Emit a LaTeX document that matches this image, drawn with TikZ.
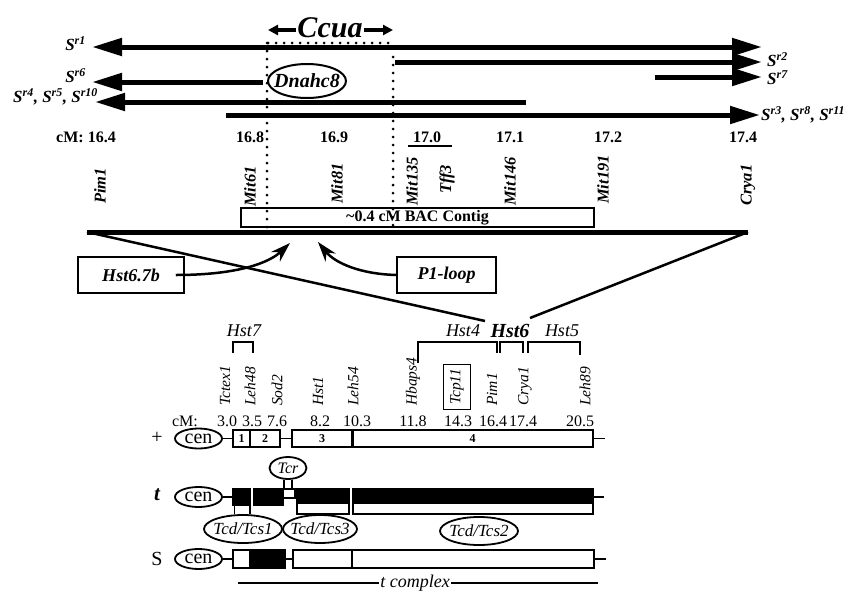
\documentclass[tikz,border=0pt]{standalone}
\usepackage{fontspec}
\setmainfont{Liberation Serif}
\usetikzlibrary{arrows.meta,shapes.geometric}
\newcommand\fsz[1]{\fontsize{#1}{#1}\selectfont}
\tikzset{bigtri/.tip={Triangle[length=30pt,width=17pt]}}

\begin{document}
\begin{tikzpicture}[x=1pt,y=-1pt,
  sr/.style={line width=5pt},
  ccarr/.style={line width=3.5pt,-{Triangle[length=10pt,width=10pt]}},
  dots/.style={line width=3pt,line cap=round,dash pattern=on 0pt off 8pt},
  srlab/.style={font=\bfseries\itshape\fsz{17},inner sep=0pt},
  cmup/.style={font=\bfseries\fsz{16},inner sep=0pt},
  mapgene/.style={rotate=90,anchor=west,inner sep=1pt,font=\bfseries\itshape\fsz{16.5}},
  probe/.style={draw,line width=1.5pt,minimum height=36,font=\bfseries\itshape\fsz{18}},
  bent/.style={line width=2.5pt,-{Stealth[length=20pt,width=13pt]}},
  hstlab/.style={font=\itshape\fsz{18},inner sep=0pt},
  brk/.style={line width=2pt},
  gene/.style={rotate=90,anchor=west,inner sep=1pt,font=\itshape\fsz{15.5}},
  cmlow/.style={font=\fsz{16},inner sep=0pt},
  cen/.style={ellipse,draw,line width=1.8pt,fill=white,minimum width=47,minimum height=20,inner sep=0pt,font=\fsz{20}},
  seg/.style={draw,line width=1.5pt,minimum height=17,inner sep=0pt,font=\bfseries\fsz{12}},
  tseg/.style={draw,line width=1.5pt,fill=black,minimum height=16,inner sep=0pt},
  topen/.style={draw,line width=1.5pt,minimum height=25,inner sep=0pt},
  tcs/.style={ellipse,draw,line width=1.8pt,fill=white,minimum width=78,minimum height=28,inner xsep=-8pt,inner ysep=0pt,font=\itshape\fsz{17}},
  chrlink/.style={line width=1.5pt}]
\useasboundingbox (0,0) rectangle (852,592);

% Ccua interval and recombinant chromosomes
\node[font=\bfseries\itshape\fsz{30},inner sep=1pt] (ccua) at (330,28) {Ccua};
\coordinate (ccuaL) at (268,30); \coordinate (ccuaR) at (393,30);
\draw[ccarr] (ccua.west|-ccuaL) -- (ccuaL); \draw[ccarr] (ccua.east|-ccuaR) -- (ccuaR);
\draw[dots] (268,43) -- (392,43); \draw[dots] (267,43) -- (267,232); \draw[dots] (393,57) -- (393,234);
\draw[sr,bigtri-bigtri] (92,47) -- (762,47);
\draw[sr,-bigtri] (395,62) -- (762,62);
\draw[sr,-bigtri] (655,77) -- (762,77);
\draw[sr,-bigtri] (263,82) -- (92,82);
\draw[sr,-bigtri] (526,102) -- (95,102);
\draw[sr,-bigtri] (226,115) -- (760,115);
\node[srlab,anchor=east] (srone) at (86,44) {S\textsuperscript{r1}};
\node[srlab,anchor=east] (srsix) at (86,76) {S\textsuperscript{r6}};
\node[srlab,anchor=east] (srfour) at (98,97) {S\textsuperscript{r4}, S\textsuperscript{r5}, S\textsuperscript{r10}};
\node[srlab,anchor=west] (srtwo) at (767,60) {S\textsuperscript{r2}};
\node[srlab,anchor=west] (srseven) at (767,78) {S\textsuperscript{r7}};
\node[srlab,anchor=west] (srthree) at (761,115) {S\textsuperscript{r3}, S\textsuperscript{r8}, S\textsuperscript{r11}};
\node[ellipse,draw,line width=2pt,fill=white,minimum width=78,minimum height=34,inner xsep=-7pt,inner ysep=0pt,font=\bfseries\itshape\fsz{20}] (dnahc) at (307,81) {Dnahc8};

% cM scale of the contig region
\node[cmup] (cma) at (86,137) {cM: 16.4}; \node[cmup] (cmb) at (250,137) {16.8};
\node[cmup] (cmc) at (334,137) {16.9}; \node[cmup] (cmd) at (427,137) {17.0};
\node[cmup] (cme) at (510,137) {17.1}; \node[cmup] (cmf) at (608,137) {17.2};
\node[cmup] (cmg) at (743,137) {17.4};
\draw[line width=1.5pt] (408,146) -- (452,146);
\node[mapgene] (mpim) at (100,205) {Pim1}; \node[mapgene] (mmsixone) at (250,208) {Mit61};
\node[mapgene] (mmeight) at (337,205) {Mit81}; \node[mapgene] (mmonethree) at (412,207) {Mit135};
\node[mapgene] (mtff) at (447,195) {Tff3}; \node[mapgene] (mmonefour) at (510,207) {Mit146};
\node[mapgene] (mmonenine) at (603,205) {Mit191}; \node[mapgene] (mcrya) at (748,207) {Crya1};
\node[draw,line width=1.5pt,minimum width=353,minimum height=19,inner sep=0pt,font=\bfseries\fsz{16}] (bac) at (417.5,217.5) {\textasciitilde0.4 cM BAC Contig};
\coordinate (mapL) at (87,232); \coordinate (mapR) at (748,232);
\draw[line width=5pt] (mapL) -- (mapR);
\coordinate (zoomL) at (485,321); \coordinate (zoomR) at (530,318);
\draw[line width=2.5pt] (mapL) -- (zoomL); \draw[line width=2.5pt] (mapR) -- (zoomR);

% probes
\node[probe,minimum width=106] (hstprobe) at (131,275) {Hst6.7b};
\node[probe,minimum width=99] (ploop) at (446.5,275) {P1-loop};
\coordinate (hsttip) at (290,243); \coordinate (plooptip) at (318,242);
\draw[bent] ([xshift=-9pt]hstprobe.east) .. controls (240,275) and (270,262) .. (hsttip);
\draw[bent] (ploop.west) .. controls (360,274) and (335,263) .. (plooptip);

% Hst loci
\node[hstlab] (hstseven) at (244,331) {Hst7}; \node[hstlab] (hstfour) at (463,331) {Hst4};
\node[hstlab,font=\bfseries\itshape\fsz{20}] (hstsix) at (510,331) {Hst6}; \node[hstlab] (hstfive) at (562,331) {Hst5};
\draw[brk] (233,353) |- (253,342) -- (253,353);
\draw[brk] (418,363) |- (497,342) -- (497,353);
\draw[brk] (500,353) |- (523,342) -- (523,353);
\draw[brk] (528,353) |- (580,342) -- (580,355);

% genes along chromosome 17
\node[gene] (gtctex) at (225,407) {Tctex1}; \node[gene] (glehfe) at (250,407) {Leh48};
\node[gene] (gsod) at (277,407) {Sod2}; \node[gene] (ghstone) at (318,407) {Hst1};
\node[gene] (glehff) at (353,407) {Leh54}; \node[gene] (ghbaps) at (413,407) {Hbaps4};
\node[gene,draw,line width=1.5pt,minimum width=45,minimum height=27] (gtcp) at (457,410) {Tcp11};
\node[gene] (gpim) at (492,407) {Pim1}; \node[gene] (gcrya) at (525,407) {Crya1};
\node[gene] (glehen) at (585,407) {Leh89};
\node[cmlow] (lcm) at (185,421) {cM:}; \node[cmlow] (la) at (227,421) {3.0};
\node[cmlow] (lb) at (252,421) {3.5}; \node[cmlow] (lc) at (277,421) {7.6};
\node[cmlow] (ld) at (320,421) {8.2}; \node[cmlow] (le) at (357,421) {10.3};
\node[cmlow] (lf) at (413,421) {11.8}; \node[cmlow] (lg) at (458,421) {14.3};
\node[cmlow] (lh) at (493,421) {16.4}; \node[cmlow] (li) at (523,421) {17.4};
\node[cmlow] (lj) at (580,421) {20.5};

% wild-type chromosome
\node[font=\fsz{20}] (plus) at (157,438) {+};
\node[cen] (pcen) at (198.5,438.5) {cen};
\node[seg,minimum width=17] (pone) at (241.5,438.5) {1};
\node[seg,minimum width=30] (ptwo) at (265,438.5) {2};
\node[seg,minimum width=60] (pthree) at (322,438.5) {3};
\node[seg,minimum width=241] (pfour) at (472.5,438.5) {4};
\draw[line width=3pt] (pthree.north east) -- (pthree.south east);
\coordinate (ptail) at (605,438.5);
\draw[chrlink] (pcen) -- (pone); \draw[chrlink] (ptwo) -- (pthree); \draw[chrlink] (pfour.east) -- (ptail);

% t haplotype
\node[font=\bfseries\itshape\fsz{21}] (tlab) at (157,495) {t};
\node[cen] (tcen) at (198.5,497) {cen};
\node[tseg,minimum width=17] (tone) at (241.5,497) {};
\node[tseg,minimum width=29] (ttwo) at (268.5,497) {};
\node[draw,line width=1.5pt,minimum width=12,minimum height=9,inner sep=0pt] (tgap) at (289,493.5) {};
\node[topen,minimum width=52] (tthree) at (323,501.5) {};
\node[topen,minimum width=240] (tfour) at (473,501.5) {};
\fill (tthree.north west) rectangle ([yshift=-16pt]tthree.north east);
\fill (tfour.north west) rectangle ([yshift=-16pt]tfour.north east);
\coordinate (ttail) at (604,497);
\draw[chrlink] (tcen) -- (tone); \draw[chrlink] (tfour.east|-ttail) -- (ttail);
\node[ellipse,draw,line width=1.8pt,minimum width=37,minimum height=22,inner sep=0pt,font=\itshape\fsz{16}] (tcr) at (288,468) {Tcr};
\draw[chrlink] ([xshift=-4pt]tcr.south) -- ([xshift=-4pt]tcr.south|-tgap.north);
\draw[chrlink] ([xshift=4pt]tcr.south) -- ([xshift=4pt]tcr.south|-tgap.north);
\node[tcs] (tcsone) at (243,529) {Tcd/Tcs1};
\node[tcs,minimum width=74] (tcsthree) at (320,529) {Tcd/Tcs3};
\node[tcs] (tcstwo) at (479,531) {Tcd/Tcs2};
\draw[chrlink] ([xshift=2pt]tone.south west) -- ([xshift=2pt]tone.south west|-tcsone.north);
\draw[chrlink] ([xshift=-1pt]tone.south east) -- ([xshift=-1pt]tone.south east|-tcsone.north);

% S chromosome
\node[font=\fsz{20}] (slab) at (157,559) {S};
\node[cen] (scen) at (198.5,559) {cen};
\node[seg,minimum width=17,minimum height=18] (sone) at (241.5,559) {};
\node[seg,fill=black,minimum width=35,minimum height=18] (stwo) at (267.5,559) {};
\node[seg,minimum width=59,minimum height=18] (sthree) at (322.5,559) {};
\node[seg,minimum width=242,minimum height=18] (sfour) at (473,559) {};
\coordinate (stail) at (606,559);
\draw[chrlink] (scen) -- (sone); \draw[chrlink] (stwo) -- (sthree); \draw[chrlink] (sfour.east) -- (stail);

% t complex
\coordinate (tcxL) at (238,583); \coordinate (tcxR) at (598,583);
\draw[line width=1.5pt] (tcxL) -- (tcxR);
\node[fill=white,inner sep=1pt,anchor=base,font=\itshape\fsz{18}] (tcx) at (415,587) {t complex};
\end{tikzpicture}
\end{document}
